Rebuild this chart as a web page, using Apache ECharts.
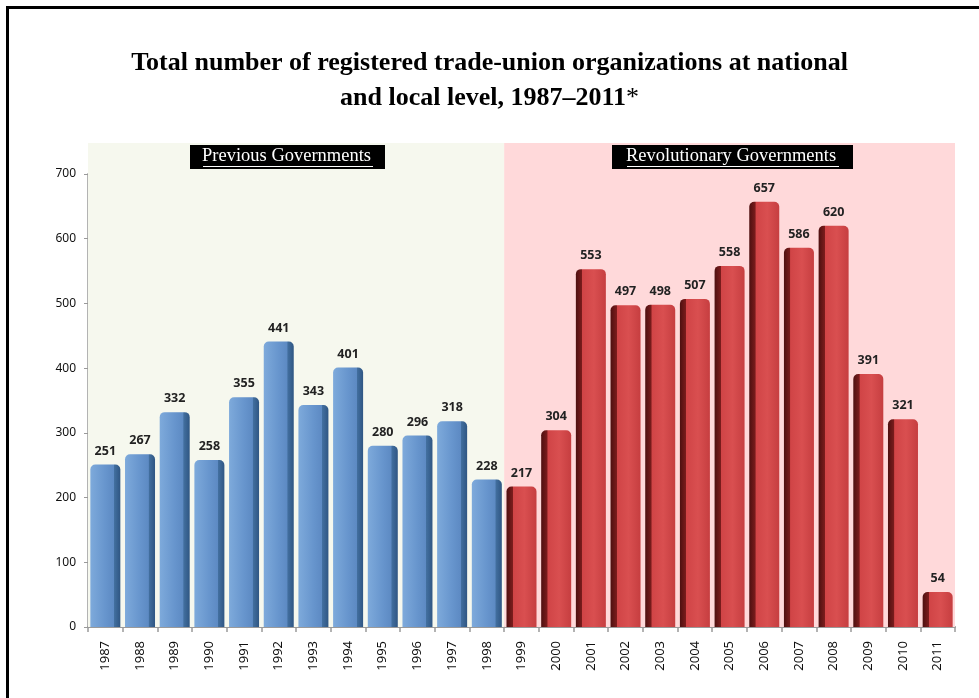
<!DOCTYPE html>
<html>
<head>
<meta charset="utf-8">
<script src="https://cdn.jsdelivr.net/npm/echarts@6/dist/echarts.min.js"></script>
<style>
  html, body { margin: 0; padding: 0; background: #fff; }
  #chart { width: 979px; height: 698px; }
</style>
</head>
<body>
<div id="chart"></div>
<script>
  // 数据
  var years = ['1987', '1988', '1989', '1990', '1991', '1992', '1993', '1994', '1995', '1996', '1997', '1998',
               '1999', '2000', '2001', '2002', '2003', '2004', '2005', '2006', '2007', '2008', '2009', '2010', '2011'];
  var previousValues = [251, 267, 332, 258, 355, 441, 343, 401, 280, 296, 318, 228];
  var revolutionaryValues = [217, 304, 553, 497, 498, 507, 558, 657, 586, 620, 391, 321, 54];
  var yTicks = [0, 100, 200, 300, 400, 500, 600, 700];

  var blueData = years.map(function (y, i) { return i < previousValues.length ? previousValues[i] : '-'; });
  var redData = years.map(function (y, i) {
    var k = i - previousValues.length;
    return k >= 0 ? revolutionaryValues[k] : '-';
  });

  var blueFill = new echarts.graphic.LinearGradient(0, 0, 1, 0, [
    { offset: 0, color: '#7eaadb' },
    { offset: 0.5, color: '#6795cd' },
    { offset: 0.78, color: '#5d8ac3' },
    { offset: 0.8, color: '#426f9f' },
    { offset: 1, color: '#2f5683' }
  ]);
  var redFill = new echarts.graphic.LinearGradient(0, 0, 1, 0, [
    { offset: 0, color: '#4e1010' },
    { offset: 0.2, color: '#7a1c1c' },
    { offset: 0.22, color: '#d04446' },
    { offset: 0.6, color: '#d94f50' },
    { offset: 1, color: '#c63e40' }
  ]);

  var labelStyle = {
    show: true,
    position: 'top',
    distance: 7,
    fontFamily: 'Noto Sans',
    fontWeight: 'bold',
    fontSize: 12.5,
    color: '#222'
  };

  var option = {
    backgroundColor: '#fff',
    animation: false,
    title: {
      text: 'Total number of registered trade-union organizations at national\n{b|and local level, 1987–2011}{a|*}',
      left: 'center',
      top: 41,
      textStyle: {
        fontFamily: 'Liberation Serif',
        fontWeight: 'bold',
        fontSize: 26,
        color: '#000',
        lineHeight: 35,
        rich: {
          b: { fontFamily: 'Liberation Serif', fontWeight: 'bold', fontSize: 26, color: '#000', lineHeight: 35 },
          a: { fontFamily: 'Liberation Serif', fontWeight: 'normal', fontSize: 26, color: '#000', lineHeight: 35 }
        }
      }
    },
    grid: [
      // 背景区域
      { left: 88, right: 24, top: 143, bottom: 71 },
      // 柱状图
      { left: 88, right: 24, top: 174, bottom: 71 }
    ],
    xAxis: [
      { gridIndex: 0, type: 'value', min: -0.5, max: years.length - 0.5, show: false },
      {
        gridIndex: 1,
        type: 'category',
        data: years,
        axisLine: { lineStyle: { color: '#9a9a9a', width: 2 } },
        axisTick: { show: true, length: 5, lineStyle: { color: '#9a9a9a', width: 1.5 } },
        axisLabel: {
          rotate: 90,
          margin: 14,
          fontFamily: 'Noto Sans',
          fontSize: 13,
          color: '#111'
        }
      }
    ],
    yAxis: [
      { gridIndex: 0, type: 'value', min: 0, max: 1, show: false },
      {
        gridIndex: 1,
        type: 'value',
        min: 0,
        max: 700,
        interval: 100,
        axisLine: { show: true, lineStyle: { color: '#9a9a9a', width: 2.5 } },
        axisTick: { show: true, length: 4, lineStyle: { color: '#9a9a9a' } },
        splitLine: { show: false },
        axisLabel: {
          margin: 12,
          fontFamily: 'Noto Sans',
          fontSize: 12,
          color: '#111',
          formatter: function (v) { return yTicks.indexOf(v) >= 0 ? String(v) : ''; }
        }
      }
    ],
    series: [
      {
        type: 'bar',
        xAxisIndex: 0,
        yAxisIndex: 0,
        data: [],
        silent: true,
        markArea: {
          silent: true,
          data: [
            [{ xAxis: -0.5, itemStyle: { color: '#f6f8ee' } }, { xAxis: previousValues.length - 0.5 }],
            [{ xAxis: previousValues.length - 0.5, itemStyle: { color: '#ffd9da' } }, { xAxis: years.length - 0.5 }]
          ]
        }
      },
      {
        name: 'Previous Governments',
        type: 'bar',
        xAxisIndex: 1,
        yAxisIndex: 1,
        data: blueData,
        barWidth: 30,
        barGap: '-100%',
        itemStyle: {
          color: blueFill,
          borderRadius: [5, 5, 0, 0]
        },
        label: labelStyle
      },
      {
        name: 'Revolutionary Governments',
        type: 'bar',
        xAxisIndex: 1,
        yAxisIndex: 1,
        data: redData,
        barWidth: 30,
        barGap: '-100%',
        itemStyle: {
          color: redFill,
          borderRadius: [5, 5, 0, 0]
        },
        label: labelStyle
      }
    ],
    graphic: [
      {
        type: 'rect',
        left: 5, top: 5,
        shape: { width: 990, height: 720 },
        style: { fill: 'none', stroke: '#000', lineWidth: 3 },
        z: 100
      },
      {
        type: 'rect',
        left: 190, top: 145, z: 100,
        shape: { width: 195, height: 24 },
        style: { fill: '#000' }
      },
      {
        type: 'text',
        left: 202, top: 147, z: 101,
        style: { text: 'Previous Governments', fill: '#fff', font: '18.5px "Liberation Serif"' }
      },
      {
        type: 'rect',
        left: 203, top: 166, z: 101,
        shape: { width: 170, height: 1 },
        style: { fill: '#fff' }
      },
      {
        type: 'rect',
        left: 612, top: 145, z: 100,
        shape: { width: 241, height: 24 },
        style: { fill: '#000' }
      },
      {
        type: 'text',
        left: 626, top: 147, z: 101,
        style: { text: 'Revolutionary Governments', fill: '#fff', font: '18.5px "Liberation Serif"' }
      },
      {
        type: 'rect',
        left: 627, top: 166, z: 101,
        shape: { width: 212, height: 1 },
        style: { fill: '#fff' }
      }
    ]
  };

  var myChart = echarts.init(document.getElementById('chart'));
  myChart.setOption(option);
</script>
</body>
</html>
